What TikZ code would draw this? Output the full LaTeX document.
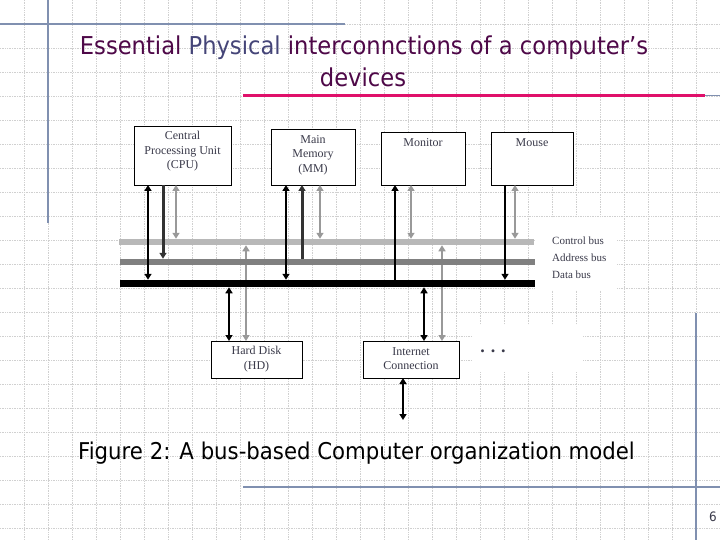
\documentclass[tikz,border=0pt]{standalone}
\usepackage{fontspec}
\setmainfont{Liberation Serif}
\newfontfamily\tah[FakeStretch=0.92]{DejaVu Sans}
\usetikzlibrary{arrows.meta}
\definecolor{titlepurple}{HTML}{4E0848}
\definecolor{titleblue}{HTML}{454578}
\definecolor{rulec}{HTML}{8090B0}
\definecolor{pinkline}{HTML}{E0106A}
\definecolor{boxtext}{HTML}{3A3A4A}
\definecolor{gridc}{HTML}{D0D0D0}
\definecolor{ctrlc}{HTML}{B8B8B8}
\definecolor{addrc}{HTML}{808080}
\definecolor{darkarr}{HTML}{333333}
\definecolor{grayarr}{HTML}{999999}
\tikzset{
  gridline/.style={gridc, densely dotted, line width=0.7pt},
  ruleline/.style={rulec, line width=1.2pt},
  devbox/.style={draw=black, line width=0.8pt, fill=white, inner sep=0pt, outer sep=0pt},
  devtext/.style={text=boxtext, align=center, inner sep=1pt, font=\fontsize{12}{14.5}\selectfont},
  buslabel/.style={text=boxtext, anchor=west, inner sep=0pt, font=\fontsize{11}{13}\selectfont},
  bus/.style={inner sep=0pt, outer sep=0pt, minimum width=415pt},
  tip/.style={-{Triangle[width=7pt,length=6pt]}},
  both/.style={{Triangle[width=7pt,length=6pt]}-{Triangle[width=7pt,length=6pt]}},
  blkarr/.style={black, line width=2.4pt, line cap=butt},
  darkarrow/.style={darkarr, line width=3pt, line cap=butt},
  grayarrow/.style={grayarr, line width=2.4pt, line cap=butt},
  titletext/.style={text=titlepurple, inner sep=0pt, font=\tah\fontsize{24.6}{29}\selectfont},
}
\begin{document}
\begin{tikzpicture}[x=1pt,y=-1pt]
\useasboundingbox (0,0) rectangle (720,540);
\fill[white] (0,0) rectangle (720,540);
% background grid
\foreach \i in {24,48,...,696} \draw[gridline] (\i,0) -- (\i,540);
\foreach \j in {24,48,...,528} \draw[gridline] (0,\j) -- (720,\j);
\fill[white] (535,218) rectangle (617,290);
\fill[white] (472,325) rectangle (583,372);
% slide rules
\draw[ruleline] (0,24) -- (345,24);
\draw[ruleline] (48,0) -- (48,223);
\draw[ruleline] (243,487) -- (720,487);
\draw[ruleline] (696,313) -- (696,540);
\draw[rulec, line width=1pt] (700,96) -- (720,96);
\draw[pinkline, line width=3.5pt] (243,95.5) -- (705,95.5);
% title
\node[titletext] (title1) at (364,47.5)
  {Essential {\color{titleblue}Physical} interconnctions of a computer’s};
\node[titletext] (title2) at (363,77.5) {devices};
% caption and page number
\node[text=black, font=\tah\fontsize{23.1}{28}\selectfont, inner sep=0pt] (caption) at (356.5,453)
  {Figure 2: A bus-based Computer organization model};
\node[text=boxtext, font=\tah\fontsize{13}{15}\selectfont, inner sep=0pt] (pagenum) at (713,517) {6};
% x positions
\foreach \n/\x in {a/148,b/163,c/176,d/286,e/302,f/320,g/395,h/411,k/505,l/515,m/229,n/246,o/424,p/442,q/403}
  \coordinate (x\n) at (\x,0);
% devices
\node[devbox, minimum width=97pt, minimum height=59pt] (cpu) at (182.5,155.5) {};
\node[devtext, anchor=north] (cputext) at ([yshift=-4pt]cpu.north) {Central\\Processing Unit\\(CPU)};
\node[devbox, minimum width=84pt, minimum height=56pt] (mm) at (313,157) {};
\node[devtext, anchor=north] (mmtext) at ([yshift=-5pt]mm.north) {Main\\Memory\\(MM)};
\node[devbox, minimum width=84pt, minimum height=53pt] (mon) at (423,158.5) {};
\node[devtext, anchor=north] (montext) at ([yshift=-5pt]mon.north) {Monitor};
\node[devbox, minimum width=82pt, minimum height=53pt] (mouse) at (532,158.5) {};
\node[devtext, anchor=north] (mousetext) at ([yshift=-5pt]mouse.north) {Mouse};
\node[devbox, minimum width=91pt, minimum height=37pt] (hd) at (256.5,359.5) {};
\node[devtext, anchor=north] (hdtext) at ([yshift=-4pt]hd.north) {Hard Disk\\(HD)};
\node[devbox, minimum width=96pt, minimum height=37pt] (inet) at (411,359.5) {};
\node[devtext, anchor=north] (inettext) at ([yshift=-5pt]inet.north) {Internet\\Connection};
\node[text=boxtext, font=\bfseries\fontsize{18}{20}\selectfont, inner sep=0pt] (dots) at (493,351) {.\hspace{6pt}.\hspace{6pt}.};
\coordinate (netend) at (403,420);
% buses
\node[bus, fill=ctrlc, minimum height=6.5pt] (ctrlbus) at (326.5,242) {};
\draw[grayarrow, both] (ctrlbus.south -| xn) -- (hd.north -| xn);
\draw[grayarrow, both] (ctrlbus.south -| xp) -- (inet.north -| xp);
\node[bus, fill=addrc, minimum height=6.5pt] (addrbus) at (327,262) {};
\node[bus, fill=black, minimum height=7.5pt] (databus) at (327,283.5) {};
\node[buslabel] (lctrl) at (552,241) {Control bus};
\node[buslabel] (laddr) at (552,258) {Address bus};
\node[buslabel] (ldata) at (552,275) {Data bus};
% connectors
\draw[blkarr, both] (cpu.south -| xa) -- (databus.north -| xa);
\draw[darkarrow, tip] (cpu.south -| xb) -- (addrbus.north -| xb);
\draw[grayarrow, both] (cpu.south -| xc) -- (ctrlbus.north -| xc);
\draw[blkarr, both] (mm.south -| xd) -- (databus.north -| xd);
\draw[darkarrow, tip] (addrbus.north -| xe) -- (mm.south -| xe);
\draw[grayarrow, both] (mm.south -| xf) -- (ctrlbus.north -| xf);
\draw[blkarr, tip] (databus.north -| xg) -- (mon.south -| xg);
\draw[grayarrow, both] (mon.south -| xh) -- (ctrlbus.north -| xh);
\draw[blkarr, tip] (mouse.south -| xk) -- (databus.north -| xk);
\draw[grayarrow, both] (mouse.south -| xl) -- (ctrlbus.north -| xl);
\draw[blkarr, both] (databus.south -| xm) -- (hd.north -| xm);
\draw[blkarr, both] (databus.south -| xo) -- (inet.north -| xo);
\draw[blkarr, both] (inet.south -| xq) -- (netend);
\end{tikzpicture}
\end{document}
